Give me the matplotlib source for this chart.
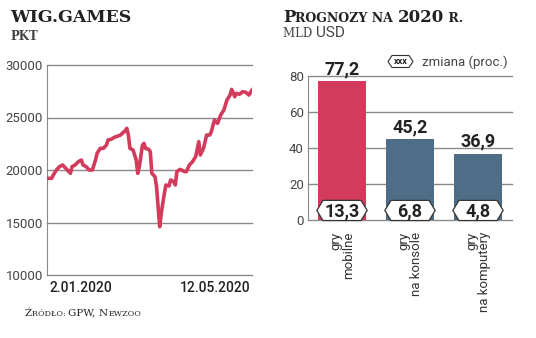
import matplotlib
matplotlib.use("Agg")
import matplotlib.pyplot as plt
from matplotlib import font_manager
from matplotlib.patches import Polygon

# WIG.GAMES (pkt), days counted from 2.01.2020
days = [0, 3, 4, 6, 8, 10, 13, 15, 16, 18, 20, 22, 23, 25, 27, 29, 31, 32, 34, 36,
        38, 39, 41, 43, 47, 50, 51, 52, 53, 55, 57, 58, 59, 61, 62, 63, 65, 66, 67, 69,
        70, 71, 72, 73, 75, 76, 78, 79, 81, 82, 83, 85, 88, 89, 91, 93, 95, 97, 98, 100,
        102, 104, 105, 107, 109, 111, 113, 115, 117, 118, 120, 121, 123, 125, 127, 129, 131]
wig = [19210, 19210, 19520, 20000, 20320, 20480, 20000, 19680, 20320, 20480, 20790, 20950,
       20480, 20320, 20000, 20000, 20950, 21590, 22060, 22060, 22380, 22860, 22920, 23110,
       23330, 23750, 23970, 23330, 22060, 21900, 20950, 19680, 20320, 22380, 22540, 22060,
       21970, 21750, 19680, 19370, 18410, 16510, 14600, 15870, 17780, 18570, 18480, 19050,
       18890, 18570, 19840, 20060, 19840, 19840, 20480, 20790, 21270, 22700, 21430, 22060,
       23330, 23330, 23650, 24760, 24440, 25240, 25710, 26670, 27140, 27680, 26980, 27300,
       27210, 27460, 27400, 27140, 27620]
date_labels = ["2.01.2020", "12.05.2020"]
wig_ticks = [10000, 15000, 20000, 25000, 30000]

# Prognozy na 2020 r., mld USD
categories = ["gry\nmobilne", "gry\nna konsole", "gry\nna komputery"]
revenue = [77.2, 45.2, 36.9]
change = [13.3, 6.8, 4.8]
bar_ticks = [0, 20, 40, 60, 80]

RED = "#d23b5b"
SLATE = "#4f6d86"
GRID = "#8a8a8a"
DARK = "#222222"
GREY_TXT = "#444444"

installed = {f.name for f in font_manager.fontManager.ttflist}
NARROW = [f for f in ["Liberation Sans Narrow", "DejaVu Sans Condensed", "Roboto", "DejaVu Sans"]
          if f in installed][0]
SERIF = "DejaVu Serif"

W, H = 536, 338
fig = plt.figure(figsize=(W / 100, H / 100), dpi=100)
renderer = fig.canvas.get_renderer()


def fx(px):
    return px / W


def fy(py):
    return 1 - py / H


def pieces(x, y, parts):
    # chain text pieces on a common baseline (fake small caps)
    xpos = fx(x)
    for txt, size, family, weight, color in parts:
        t = fig.text(xpos, fy(y), txt, fontsize=size, family=family, weight=weight,
                     color=color, ha="left", va="baseline")
        bb = t.get_window_extent(renderer)
        xpos = bb.x1 / W


def hexagon(cx, cy, hw, hh, p, **kw):
    pts = [(cx - hw, cy), (cx - hw + p, cy + hh), (cx + hw - p, cy + hh),
           (cx + hw, cy), (cx + hw - p, cy - hh), (cx - hw + p, cy - hh)]
    return Polygon(pts, closed=True, **kw)


# ---------- left: WIG.GAMES line ----------
ax1 = fig.add_axes([fx(47), fy(275), fx(252) - fx(47), fy(65) - fy(275)])
for v in wig_ticks:
    ax1.axhline(v, color=GRID, lw=1, clip_on=False, zorder=0)
ax1.plot(days, wig, color=RED, lw=2.6, solid_joinstyle="round", zorder=3)
ax1.set_xlim(0, 131)
ax1.set_ylim(10000, 30000)
ax1.set_yticks(wig_ticks)
ax1.set_yticklabels([str(v) for v in wig_ticks], family=NARROW, fontsize=9.5, color=GREY_TXT)
ax1.set_xticks([])
ax1.tick_params(axis="y", length=0, pad=3)
for s in ["top", "right", "bottom"]:
    ax1.spines[s].set_visible(False)
ax1.spines["left"].set_color(GRID)
ax1.text(0.01, -0.03, date_labels[0], transform=ax1.transAxes, ha="left", va="top",
         family=NARROW, fontsize=10, color=DARK, weight="medium")
ax1.text(0.99, -0.03, date_labels[1], transform=ax1.transAxes, ha="right", va="top",
         family=NARROW, fontsize=10, color=DARK, weight="medium")

# ---------- right: forecast bars ----------
ax2 = fig.add_axes([fx(308), fy(220), fx(512) - fx(308), fy(76) - fy(220)])
for v in bar_ticks:
    ax2.axhline(v, color=GRID, lw=1, clip_on=False, zorder=0)
xs = list(range(len(categories)))
bars = ax2.bar(xs, revenue, width=0.7, color=[RED, SLATE, SLATE], zorder=2)
ax2.set_xlim(-0.5, 2.5)
ax2.set_ylim(0, 80)
ax2.set_yticks(bar_ticks)
ax2.set_yticklabels([str(v) for v in bar_ticks], family=NARROW, fontsize=9.5, color=GREY_TXT)
ax2.tick_params(axis="y", length=0, pad=3)
ax2.set_xticks([])
for s in ["top", "right", "bottom"]:
    ax2.spines[s].set_visible(False)
ax2.spines["left"].set_color(GRID)

for x, v, c, lab in zip(xs, revenue, change, categories):
    ax2.text(x, v + 1.5, f"{v:.1f}".replace(".", ","), ha="center", va="bottom",
             family=NARROW, fontsize=13, weight="bold", color=DARK, clip_on=False)
    ax2.add_patch(hexagon(x, 5.3, 0.37, 5.6, 0.09, facecolor="white", edgecolor="#333333",
                          lw=0.9, zorder=4, clip_on=False))
    ax2.text(x, 5.0, f"{c:.1f}".replace(".", ","), ha="center", va="center",
             family=NARROW, fontsize=13, weight="bold", color=DARK, zorder=5)
    ax2.text(x, -6.5, lab, rotation=90, ha="center", va="top", multialignment="right",
             family=NARROW, fontsize=9.5, color="#333333", linespacing=1.0, clip_on=False)

# legend hexagon
fig.patches.append(hexagon(fx(400.5), fy(61.5), fx(12.5), fy(55.5) - fy(61.5), fx(4),
                           facecolor="white", edgecolor="#333333", lw=0.8,
                           transform=fig.transFigure, figure=fig))
fig.text(fx(400.5), fy(62), "xxx", ha="center", va="center", family=NARROW,
         fontsize=6.5, weight="bold", color=DARK)
fig.text(fx(422), fy(62), "zmiana (proc.)", ha="left", va="center", family=NARROW,
         fontsize=9.5, color=GREY_TXT)

# ---------- titles ----------
pieces(10, 22, [("WIG.GAMES", 12.5, SERIF, "bold", DARK)])
pieces(10, 40, [("PKT", 8.5, SERIF, "bold", GREY_TXT)])
pieces(283, 22, [("P", 12, SERIF, "bold", DARK), ("ROGNOZY NA ", 9, SERIF, "bold", DARK),
                 ("2020", 12, SERIF, "bold", DARK), (" R.", 9, SERIF, "bold", DARK)])
pieces(283, 37, [("MLD ", 8.5, SERIF, "normal", GREY_TXT), ("USD", 11, NARROW, "normal", GREY_TXT)])
pieces(25, 316, [("Ź", 7.5, SERIF, "normal", DARK), ("RÓDŁO: ", 5.8, SERIF, "normal", DARK),
                 ("GPW, ", 7.5, SERIF, "normal", DARK), ("N", 7.5, SERIF, "normal", DARK),
                 ("EWZOO", 5.8, SERIF, "normal", DARK)])

fig.savefig("out.png", dpi=100)
